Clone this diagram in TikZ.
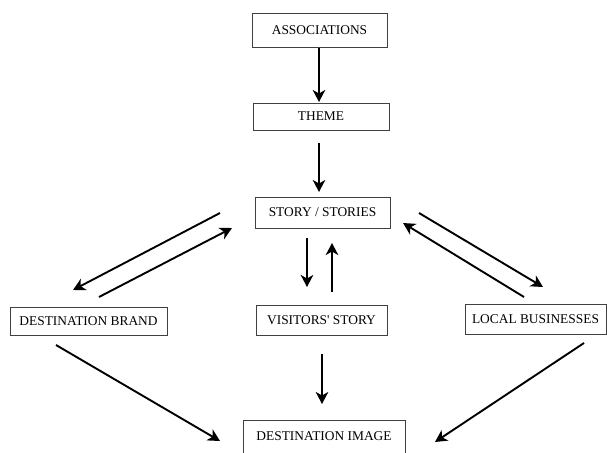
\documentclass[tikz,border=0pt]{standalone}
\usepackage{fontspec}
\setmainfont{Liberation Serif}
\usetikzlibrary{arrows.meta}
\begin{document}
\begin{tikzpicture}[x=1pt,y=-1pt,
  stage/.style={draw=black!75, line width=0.9pt, fill=white, inner sep=0pt,
    font=\fontsize{13.4}{16}\selectfont},
  flow/.style={line width=1.9pt, -{Stealth[length=12pt,width=12.5pt,inset=3.5pt]}}]
\useasboundingbox (0,0) rectangle (607,452);
\clip (0,0) rectangle (607,452);

% boxes
\node[stage, minimum width=135pt, minimum height=34pt] (assoc)    at (319.5,30)   {ASSOCIATIONS};
\node[stage, minimum width=136pt, minimum height=27pt] (theme)    at (321,116.5)  {THEME};
\node[stage, minimum width=135pt, minimum height=31pt] (story)    at (322.5,212.5){STORY / STORIES};
\node[stage, minimum width=157pt, minimum height=28pt] (brand)    at (88.5,321)   {DESTINATION BRAND};
\node[stage, minimum width=131pt, minimum height=30pt] (visitors) at (321.5,320)  {VISITORS\textquotesingle\ STORY};
\node[stage, minimum width=141pt, minimum height=30pt] (local)    at (535.5,319)  {LOCAL BUSINESSES};
\node[stage, minimum width=162pt, minimum height=36pt, anchor=north] (image) at (324,420) {};
\node[font=\fontsize{13.4}{16}\selectfont] (imagetext) at (324,436) {DESTINATION IMAGE};

% arrow end points
\coordinate (a1) at (319,48);   \coordinate (a2) at (319,102);
\coordinate (t1) at (319,143);  \coordinate (t2) at (319,192);
\coordinate (sb1) at (220,213); \coordinate (sb2) at (73,290);
\coordinate (bs1) at (99,297);  \coordinate (bs2) at (232,228);
\coordinate (sv1) at (307,238); \coordinate (sv2) at (307,287);
\coordinate (vs1) at (332,292); \coordinate (vs2) at (332,243);
\coordinate (sl1) at (419,213); \coordinate (sl2) at (543,287);
\coordinate (ls1) at (524,297); \coordinate (ls2) at (403,223);
\coordinate (vi1) at (322,354); \coordinate (vi2) at (322,404);
\coordinate (bi1) at (56,345);  \coordinate (bi2) at (220,441);
\coordinate (li1) at (584,343); \coordinate (li2) at (435,442);

% connectors
\draw[flow] (a1) -- (a2);
\draw[flow] (t1) -- (t2);
\draw[flow] (sb1) -- (sb2);
\draw[flow] (bs1) -- (bs2);
\draw[flow] (sv1) -- (sv2);
\draw[flow] (vs1) -- (vs2);
\draw[flow] (sl1) -- (sl2);
\draw[flow] (ls1) -- (ls2);
\draw[flow] (vi1) -- (vi2);
\draw[flow] (bi1) -- (bi2);
\draw[flow] (li1) -- (li2);
\end{tikzpicture}
\end{document}
